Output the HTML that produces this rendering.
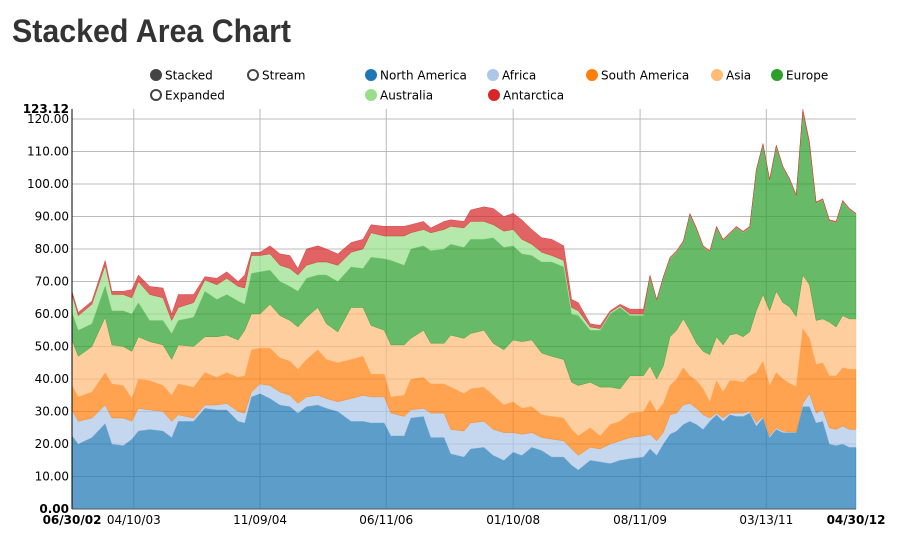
<!DOCTYPE html>
<html><head><meta charset="utf-8"><style>
html,body{margin:0;padding:0;background:#fff;}
svg{display:block;font-family:"DejaVu Sans","Liberation Sans",sans-serif;}
.tick{font-size:12px;fill:#000;}
.leg{font-size:12px;fill:#000;}
</style></head><body>
<svg id="chart" width="912" height="549" viewBox="0 0 912 549">
<text x="12" y="42" font-family="Liberation Sans, sans-serif" font-weight="bold" font-size="32" fill="#333" textLength="279" lengthAdjust="spacingAndGlyphs">Stacked Area Chart</text>
<g id="legend"></g>
<g id="grid"></g>
<g id="areas"></g>
<g id="axes"></g>
</svg>
<script>
// months since 06/2002
const months=[0,0.95,3,5,6,7.7,9,10,11.7,13.7,15,16,18.3,20,21.8,23.3,25,26,27,28.3,29.8,31.3,32.8,34,35.3,37,38.3,40,42,43.8,45,47,48,50,51,52.9,54,56,57,59,60,62,63.4,65,66.4,67.7,69.2,70.7,72.2,74,75.2,76.2,78,79.5,81,82.5,84,86,87,88,89,90,91,92,93,94,95,96,97,98,99,100,101,102,103,104,105,106,107,108,109,110,111,112,113,114,115,116,117,118];
const northAmerica=[22.6,20,22,26.3,20,19.5,21.5,24,24.5,24,22,27,27,31,30.5,30.5,27,26.5,34.5,35.5,34,32,31.5,29.5,31.5,32,31,30,27,27,26.5,26.5,22.5,22.5,28,28.5,22,22,17,16,18.5,19,16.5,15,17.5,16.5,19,18,16,16,13.5,12,15,14.5,14,15,15.5,16,18.5,16.5,20,23,24,26,27,26,24.5,27,29,27,29,28.5,28.5,29.5,25.5,28,22,24.5,23.5,23.5,23.5,31.5,31.5,26.5,27,20,19.5,20,19,19];
const africa=[7.9,7,6,5.7,8,8.5,5.5,7,6,6,5,2,1,1,1.5,2,3,3,1.5,3,4,4,3.5,3,3,3,3,3,7,8,8,8,7,6,2.5,2.5,7.5,7.5,7.5,8,8,8,8,8.5,6,6.5,4.5,4,5.5,5,5,4.5,4,4,6,6,6.5,6.5,4.5,4.5,3.5,6,5.5,6,5.5,5,4.5,1,0.5,1,0.5,1,1,0.5,1,0.5,0.5,0.5,0.5,0.2,0.2,1,4,3,3.5,5,5,5.5,5.5,5.5];
const southAmerica=[7.5,7.5,8,10,10.5,10,7,9,9,8,8,9.5,9.5,10,8.5,9.5,10.5,11.5,13,11,11.5,10.5,10.5,10.5,11.5,14,12,12,12,12,7,7,5,6.5,9.5,9.5,9,9,13,11.5,10.5,10.5,10.5,8.5,9.5,8,8,7,7,7,6,6,6,4,6,6,7.5,7.5,10.5,9,9,9,10.5,11.5,8.5,8.5,8,5,10,8,10,10,9.5,11,15.5,17,15.5,17,16,15,14,23,17,15,14.5,16,16.5,18,18.5,18.5];
const asia=[14,12.5,14,17,12,12,14.5,13,12,12.5,11,12,12.5,11,12.5,11.5,11.5,14,11,10.5,13.5,13,12.5,13,13,13,11,9.5,16,15,15,13.5,16,15.5,12.5,14.5,12.5,12.5,16,17,17,17.5,16,17,19,20.5,20.5,19,18.5,18,14.5,15.5,14,15,11.5,10,11.5,11,10.5,10,11.5,15,15,15,14,11.5,11.5,14.5,13.5,14.5,14,14.5,14,13.5,19,20.5,23,25,23.5,23.5,21.5,16.5,16.5,13.5,13.5,16.5,15,16,15.5,15.5];
const europe=[8.5,8,7,9.7,10.5,11,11.5,10.5,6.5,7.5,8,7.5,9,14,11.5,12.5,12,8,12.5,13,10.5,10.5,10.5,11,12,10,15,15.5,12.5,12,21,22,26,24.5,27.5,26,28.5,29,28,28,29,28,32.5,31.5,29,27,26,28,29,28.5,21,21.5,16,17.5,22.5,25,18.5,18.5,27,24,27,24,24,23.5,35.5,35,32,31.5,33.5,32,31,32.5,32,32,43,46,40,44.5,41.5,39,37,50,43,36,36.5,31,32,35,33.5,32];
const australia=[5.5,4.5,6,6.3,5,5,5,6.5,8,7,4,4,4.5,3.5,4.5,5,4.5,5,5.5,5,5,5,5.5,5,4,4,4,5,4.5,6,7.5,7,7.5,9,5,5,5.5,6,5.5,6,5.5,5.5,4,5,5,4.5,3.5,3,2,2,2,1.5,1,0.5,0.5,0.5,0.5,0.5,0.5,0.2,0.2,0.2,0.2,0.2,0.2,0.2,0.2,0.2,0.2,0.2,0.2,0.2,0.2,0.2,0.2,0.2,0.2,0.2,0.2,0.2,0.2,0.3,0.3,0.2,0.2,0.2,0.2,0.2,0.2,0.2];
const antarctica=[1,1,1,1.5,1,1,2.5,2,2.5,3,2,4,2.5,1,2,2,1.5,4,1,1,2.5,3.5,4,2,5,5,4,3.5,3,3,2.5,3,3,3,2.5,2.5,1.5,2.5,2,2,3.5,4.5,5,4.5,5,6,4.5,4.5,5,4.5,2.5,2.5,1,1,0.5,0.5,1.5,1.5,0.5,0.3,0.3,0.3,0.3,0.3,0.3,0.3,0.3,0.3,0.3,0.3,0.3,0.3,0.3,0.3,0.3,0.3,0.3,0.3,0.3,0.3,0.3,0.8,0.7,0.3,0.3,0.3,0.3,0.3,0.3,0.3];
const seriesNames=["North America","Africa","South America","Asia","Europe","Australia","Antarctica"];
const seriesColors=["#1f77b4","#aec7e8","#ff7f0e","#ffbb78","#2ca02c","#98df8a","#d62728"];
const yTicks=[0,10,20,30,40,50,60,70,80,90,100,110,120];
const xTickLabels=["04/10/03","11/09/04","06/11/06","01/10/08","08/11/09","03/13/11"];
const xTickMonthsAll=[9.3,28.3,47.3,66.4,85.5,104.5];
const yMax=123.12, mMax=118;

const NS="http://www.w3.org/2000/svg";
const L=72,R=856,B=509,T=108.9;
const xS=m=>L+(R-L)*m/mMax;
const yS=v=>B-(B-T)*v/yMax;
function mk(tag,attrs,parent){const e=document.createElementNS(NS,tag);for(const k in attrs)e.setAttribute(k,attrs[k]);parent.appendChild(e);return e;}
const grid=document.getElementById('grid'),areas=document.getElementById('areas'),axes=document.getElementById('axes'),legend=document.getElementById('legend');

yTicks.forEach(v=>{
  const ln=mk('line',{x1:L,x2:R,y1:yS(v),y2:yS(v),stroke:'#bbb','stroke-width':1},grid);
  
  
  if(v>0){const t=mk('text',{x:L-3,y:yS(v)+4,'text-anchor':'end',class:'tick'},axes);t.textContent=v.toFixed(2);
  
  }
});
xTickMonthsAll.forEach((m,i)=>{
  const ln=mk('line',{x1:xS(m),x2:xS(m),y1:T,y2:B,stroke:'#bbb','stroke-width':1},grid);
  
  
  const t=mk('text',{x:xS(m),y:524,'text-anchor':'middle',class:'tick'},axes);t.textContent=xTickLabels[i];
  
  
});
const series=[northAmerica,africa,southAmerica,asia,europe,australia,antarctica];
let base=months.map(()=>0);
series.forEach((s,si)=>{
  const top=base.map((b,i)=>b+s[i]);
  let d='M'+months.map((m,i)=>xS(m).toFixed(1)+','+yS(top[i]).toFixed(1)).join('L');
  for(let i=months.length-1;i>=0;i--)d+='L'+xS(months[i]).toFixed(1)+','+yS(base[i]).toFixed(1);
  d+='Z';
  const p=mk('path',{d:d,fill:seriesColors[si],'fill-opacity':0.72,stroke:seriesColors[si],'stroke-opacity':0.72,'stroke-width':0.5},areas);
  
  
  base=top;
});
mk('line',{x1:L,x2:L,y1:T,y2:B,stroke:'#000','stroke-width':1},axes);
mk('line',{x1:L,x2:R,y1:B,y2:B,stroke:'#555','stroke-width':1},axes);
[[L-3,T+4,'end','123.12'],[L-3,B+4,'end','0.00'],[L,524,'middle','06/30/02'],[R,524,'middle','04/30/12']].forEach(a=>{
  const t=mk('text',{x:a[0],y:a[1],'text-anchor':a[2],class:'tick','font-weight':'bold'},axes);t.textContent=a[3];
  
  
});
const legItems=[[156,75,'Stacked','#444',true],[253,75,'Stream','#444',false],[156,95,'Expanded','#444',false],
[371,75,'North America',seriesColors[0],true],[493,75,'Africa',seriesColors[1],true],[592,75,'South America',seriesColors[2],true],
[717,75,'Asia',seriesColors[3],true],[777,75,'Europe',seriesColors[4],true],[371,95,'Australia',seriesColors[5],true],[494,95,'Antarctica',seriesColors[6],true]];
legItems.forEach(it=>{
  const g=mk('g',{},legend);
  
  
  mk('circle',{cx:it[0],cy:it[1],r:5,fill:it[4]?it[3]:'#fff',stroke:it[3],'stroke-width':2},g);
  const t=mk('text',{x:it[0]+9,y:it[1]+4.5,class:'leg'},g);t.textContent=it[2];
});
</script>
</body></html>
